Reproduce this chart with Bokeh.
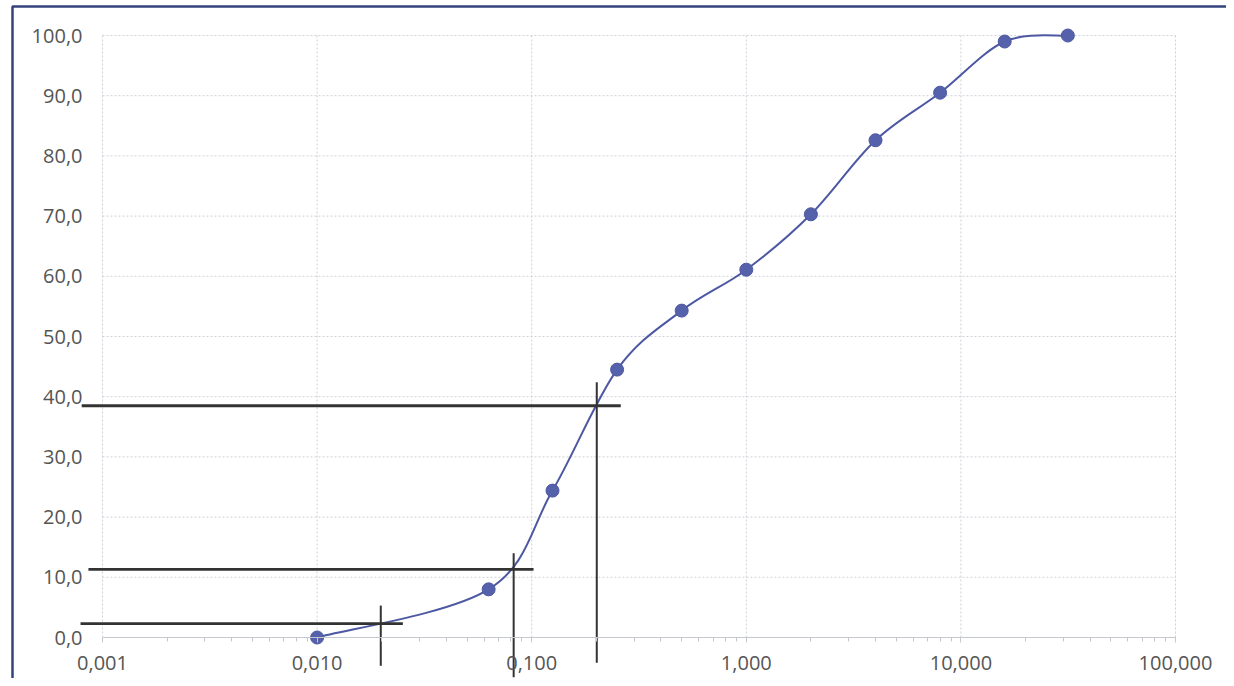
import math
from bokeh.plotting import figure
from bokeh.models import (Range1d, LogAxis, LinearAxis, FixedTicker, BoxAnnotation)
from bokeh.embed import file_html
from bokeh.resources import INLINE

# ---- data ----
sieve_mm = [0.01, 0.063, 0.125, 0.25, 0.5, 1.0, 2.0, 4.0, 8.0, 16.0, 31.5]
passing_pct = [0.0, 8.0, 24.4, 44.5, 54.3, 61.1, 70.3, 82.6, 90.5, 99.0, 100.0]

x_ticks = [0.001, 0.01, 0.1, 1.0, 10.0, 100.0]
x_tick_labels = ["0,001", "0,010", "0,100", "1,000", "10,000", "100,000"]
y_ticks = [0, 10, 20, 30, 40, 50, 60, 70, 80, 90, 100]
y_tick_labels = ["0,0", "10,0", "20,0", "30,0", "40,0", "50,0", "60,0", "70,0", "80,0", "90,0", "100,0"]

# hand-drawn reading lines
guide_y = [2.3, 11.3, 38.5]
guide_h_start = [0.00079, 0.00086, 0.00080]
guide_h_end = [0.0251, 0.102, 0.26]
guide_x = [0.0198, 0.0824, 0.201]
guide_v_top = [5.3, 14.0, 42.4]
guide_v_bottom = [-4.7, -6.6, -4.2]

# ---- layout geometry (styling) ----
W, H = 1226, 678
decade_px = 214.6
left_px = 102         # px of x = 0.001
unit_px = 6.02        # px per percent
top_px = 35           # px of y = 100
L0 = -3 - left_px / decade_px
L1 = L0 + W / decade_px
y_top = 100 + top_px / unit_px
y_bot = 100 - (H - top_px) / unit_px

p = figure(width=W, height=H, x_axis_type="log",
           x_range=Range1d(10 ** L0, 10 ** L1), y_range=Range1d(y_bot, y_top),
           x_axis_location=None, y_axis_location=None,
           min_border=0, min_border_left=0, min_border_right=0,
           min_border_top=0, min_border_bottom=0,
           output_backend="svg", toolbar_location=None)
p.outline_line_color = None
p.background_fill_color = "white"
p.border_fill_color = "white"
p.xgrid.visible = False
p.ygrid.visible = False

# ---- dotted grid ----
grid_color = "#cdd1d8"
p.segment(x0=x_ticks, x1=x_ticks, y0=[y_ticks[0]] * len(x_ticks), y1=[y_ticks[-1]] * len(x_ticks),
          line_color=grid_color, line_dash="2 2", line_width=1)
p.segment(x0=[x_ticks[0]] * len(y_ticks), x1=[x_ticks[-1]] * len(y_ticks), y0=y_ticks, y1=y_ticks,
          line_color=grid_color, line_dash="2 2", line_width=1)

# ---- axes ----
minor = [m * 10 ** e for e in range(-3, 2) for m in range(2, 10)]
xaxis = LogAxis(fixed_location=0, bounds=(x_ticks[0], x_ticks[-1]),
                ticker=FixedTicker(ticks=x_ticks, minor_ticks=minor))
xaxis.major_label_overrides = {t: l for t, l in zip(x_ticks, x_tick_labels)}
xaxis.axis_line_color = "#c4c8ce"
xaxis.major_tick_line_color = "#c4c8ce"
xaxis.minor_tick_line_color = "#c4c8ce"
xaxis.major_tick_out = 5
xaxis.major_tick_in = 0
xaxis.minor_tick_out = 4
xaxis.minor_tick_in = 0
xaxis.major_label_standoff = 13
xaxis.major_label_text_font = "Open Sans"
xaxis.major_label_text_font_size = "20px"
xaxis.major_label_text_color = "#555555"
p.add_layout(xaxis, "below")

yaxis = LinearAxis(fixed_location=x_ticks[0], bounds=(y_ticks[0], y_ticks[-1]),
                   ticker=FixedTicker(ticks=y_ticks, minor_ticks=[]))
yaxis.major_label_overrides = {t: l for t, l in zip(y_ticks, y_tick_labels)}
yaxis.axis_line_color = None
yaxis.major_tick_line_color = None
yaxis.minor_tick_line_color = None
yaxis.major_tick_out = 0
yaxis.major_tick_in = 0
yaxis.major_label_standoff = 20
yaxis.major_label_text_font = "Open Sans"
yaxis.major_label_text_font_size = "20px"
yaxis.major_label_text_color = "#555555"
p.add_layout(yaxis, "left")

# ---- smoothed curve (Excel-style Bezier through the points) ----
lx = [math.log10(v) for v in sieve_mm]
n = len(lx)
x0s, y0s, x1s, y1s, cx0, cy0, cx1, cy1 = [], [], [], [], [], [], [], []
for i in range(n - 1):
    ip = max(i - 1, 0)
    inn = min(i + 2, n - 1)
    ax = lx[i] + (lx[i + 1] - lx[ip]) / 6
    ay = passing_pct[i] + (passing_pct[i + 1] - passing_pct[ip]) / 6
    bx = lx[i + 1] - (lx[inn] - lx[i]) / 6
    by = passing_pct[i + 1] - (passing_pct[inn] - passing_pct[i]) / 6
    x0s.append(sieve_mm[i]); y0s.append(passing_pct[i])
    x1s.append(sieve_mm[i + 1]); y1s.append(passing_pct[i + 1])
    cx0.append(10 ** ax); cy0.append(ay)
    cx1.append(10 ** bx); cy1.append(by)

line_color = "#4d58a2"
p.bezier(x0=x0s, y0=y0s, x1=x1s, y1=y1s, cx0=cx0, cy0=cy0, cx1=cx1, cy1=cy1,
         line_color=line_color, line_width=2)
p.scatter(sieve_mm, passing_pct, size=13, fill_color="#5561aa", line_color="#4d58a2", line_width=1)

# ---- hand-drawn construction lines ----
ink = "#333333"
p.segment(x0=guide_h_start, x1=guide_h_end, y0=guide_y, y1=guide_y, line_color=ink, line_width=2.8)
p.segment(x0=guide_x, x1=guide_x, y0=guide_v_top, y1=guide_v_bottom, line_color=ink, line_width=2)

# ---- frame border (top & left visible) ----
border = BoxAnnotation(left=10 ** (L0 + 12 / decade_px), right=10 ** (L1 + 0.2),
                       top=y_top - 6 / unit_px, bottom=y_bot - 10,
                       fill_color=None, fill_alpha=0, line_color="#34437e",
                       line_alpha=1.0, line_width=2.5)
p.add_layout(border)

open("out.html", "w").write(file_html(p, INLINE))
